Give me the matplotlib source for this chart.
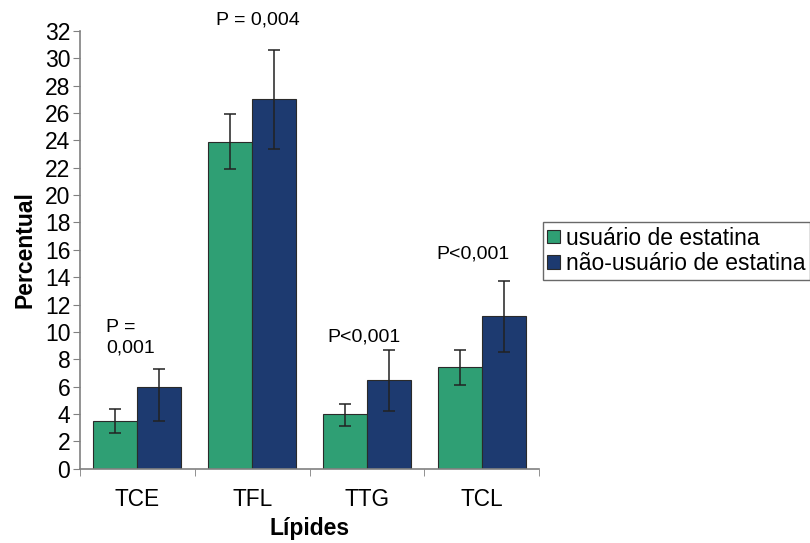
import matplotlib
matplotlib.use("Agg")
import matplotlib.pyplot as plt
import numpy as np

plt.rcParams['font.family'] = ['Liberation Sans', 'DejaVu Sans']

categories = ["TCE", "TFL", "TTG", "TCL"]
series_names = ["usuário de estatina", "não-usuário de estatina"]
users = [3.5, 23.9, 4.0, 7.4]
users_err_low = [0.9, 2.0, 0.85, 1.3]
users_err_high = [0.9, 2.0, 0.75, 1.3]
nonusers = [6.0, 27.0, 6.5, 11.15]
nonusers_err_low = [2.5, 3.6, 2.3, 2.6]
nonusers_err_high = [1.3, 3.6, 2.2, 2.6]
p_labels = ["P =\n0,001", "P = 0,004", "P<0,001", "P<0,001"]

green = "#2f9f74"
navy = "#1d3a70"

fig = plt.figure(figsize=(8.1, 5.43), dpi=100)
ax = fig.add_axes([0.0988, 0.1368, 0.5667, 0.8062])

x = np.arange(len(categories))
w = 0.383
ax.bar(x - w / 2, users, w, color=green, edgecolor="#2a2a2a", linewidth=0.8,
       label=series_names[0], zorder=2)
ax.bar(x + w / 2, nonusers, w, color=navy, edgecolor="#2a2a2a", linewidth=0.8,
       label=series_names[1], zorder=2)
ax.errorbar(x - w / 2, users, yerr=[users_err_low, users_err_high], fmt="none",
            ecolor="#222222", elinewidth=1.1, capsize=4, capthick=1.1, zorder=3)
ax.errorbar(x + w / 2, nonusers, yerr=[nonusers_err_low, nonusers_err_high], fmt="none",
            ecolor="#222222", elinewidth=1.1, capsize=4, capthick=1.1, zorder=3)

ax.set_xlim(-0.5, 3.5)
ax.set_ylim(0, 32)
ax.set_yticks(np.arange(0, 33, 2))
ax.set_xticks(x)
ax.set_xticklabels(categories)
ax.set_xticks(np.arange(-0.5, 3.6, 1.0), minor=True)
ax.tick_params(axis="x", which="major", length=0, labelsize=16.3, pad=14)
ax.tick_params(axis="x", which="minor", length=5, color="#808080", direction="out")
ax.tick_params(axis="y", labelsize=16.5, length=5, color="#808080", direction="out", pad=2)

for s in ["top", "right"]:
    ax.spines[s].set_visible(False)
for s in ["left", "bottom"]:
    ax.spines[s].set_color("#808080")
    ax.spines[s].set_linewidth(1.2)

ax.set_ylabel("Percentual", fontsize=16.5, fontweight="bold", labelpad=6)
ax.set_xlabel("Lípides", fontsize=16.5, fontweight="bold", labelpad=4)

ann_pos = [(-0.27, 9.55, "left"), (1.05, 32.8, "center"), (1.975, 9.65, "center"), (2.925, 15.7, "center")]
for (px, py, ha), lab in zip(ann_pos, p_labels):
    ax.text(px, py, lab, ha=ha, va="center", fontsize=14, clip_on=False,
            linespacing=1.25)

leg = fig.legend(loc="upper left", bbox_to_anchor=(0.670, 0.591), frameon=True,
                 fancybox=False, edgecolor="#444444", fontsize=16.5,
                 handlelength=0.55, handleheight=0.55, handletextpad=0.25,
                 borderpad=0.2, labelspacing=0.12, borderaxespad=0)
leg.get_frame().set_linewidth(1.0)

fig.savefig("out.png", dpi=100)
